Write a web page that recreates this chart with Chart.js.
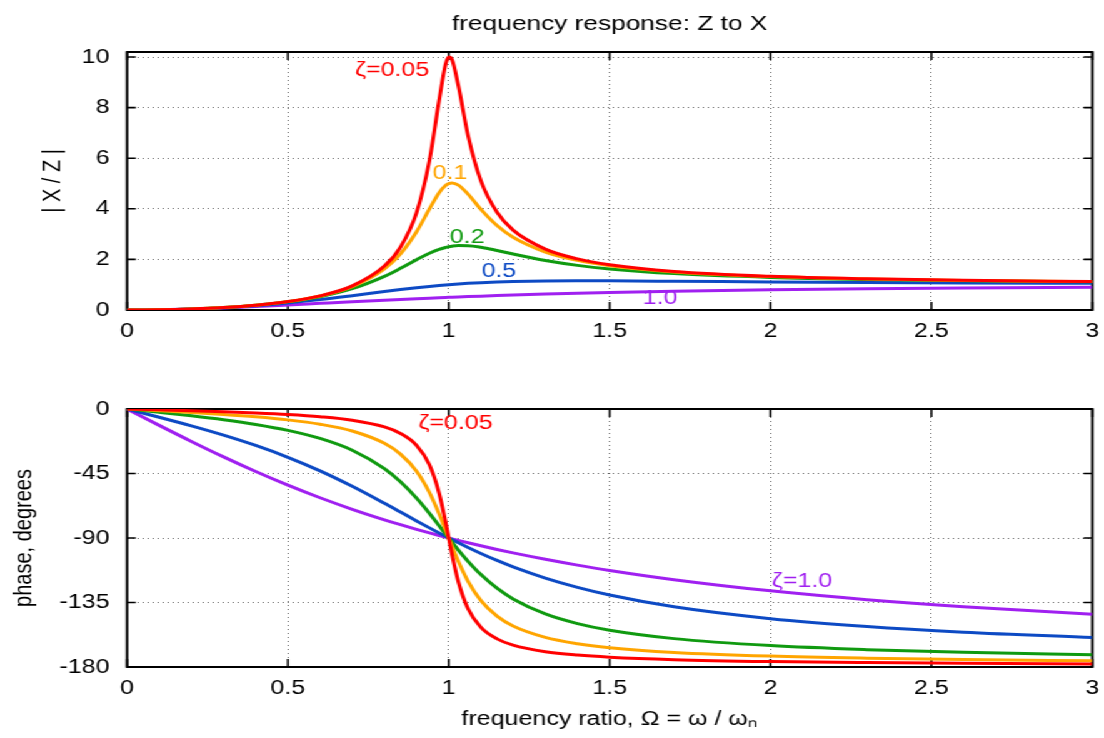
<!DOCTYPE html>
<html>
<head>
<meta charset="utf-8">
<title>frequency response: Z to X</title>
<script src="https://cdn.jsdelivr.net/npm/chart.js@4.4.1/dist/chart.umd.min.js"></script>
<style>
    html, body { margin: 0; padding: 0; background: #fff; overflow: hidden; }
    /* the reference is drawn slightly wide, so the whole stage is stretched */
    #stage { position: absolute; left: 0; top: 0; width: 883px; height: 738px; transform: scaleX(1.2503); transform-origin: 0 0; }
    #stage canvas { position: absolute; left: 0; }
    #magChart { top: 0; }
    #phaseChart { top: 350px; }
</style>
</head>
<body>
<div id="stage">
    <canvas id="magChart" width="883" height="350"></canvas>
    <canvas id="phaseChart" width="883" height="388"></canvas>
</div>
<script>
// Frequency ratio samples (denser near resonance)
const omega = [0, 0.1, 0.2, 0.3, 0.4, 0.5, 0.6, 0.7, 0.8, 0.85, 0.9, 0.94, 0.97, 0.99, 1.0,
    1.01, 1.03, 1.06, 1.1, 1.15, 1.2, 1.3, 1.4, 1.5, 1.7, 2.0, 2.3, 2.6, 3.0];

// |X / Z|
const mag005 = [0, 0.0101, 0.0417, 0.0988, 0.1903, 0.3326, 0.5600, 0.9519, 1.7355, 2.4894, 3.8528, 5.9057, 8.283, 9.706, 10.0,
    9.906, 8.866, 6.900, 5.104, 3.863, 3.157, 2.407, 2.020, 1.787, 1.523, 1.330, 1.231, 1.172, 1.124];
const mag01 = [0, 0.0101, 0.0416, 0.0987, 0.1896, 0.3304, 0.5529, 0.9265, 1.6246, 2.2201, 3.0948, 3.9960, 4.6396, 4.9251, 5.0,
    5.0251, 4.9386, 4.5786, 3.9784, 3.3386, 2.8731, 2.2920, 1.9600, 1.7503, 1.5049, 1.3216, 1.2261, 1.1689, 1.1218];
const mag02 = [0, 0.0101, 0.0415, 0.0981, 0.1871, 0.3221, 0.5267, 0.8422, 1.3287, 1.6463, 1.9899, 2.2449, 2.3973, 2.4719, 2.5,
    2.5219, 2.5473, 2.5441, 2.4818, 2.3541, 2.2115, 1.9560, 1.7635, 1.6227, 1.4388, 1.2883, 1.2057, 1.1549, 1.1126];
const mag05 = [0, 0.0101, 0.0408, 0.0939, 0.1720, 0.2774, 0.4104, 0.5658, 0.7295, 0.8080, 0.8806, 0.9329, 0.9682, 0.9898, 1.0,
    1.0098, 1.0282, 1.0529, 1.0805, 1.1073, 1.1267, 1.1483, 1.1546, 1.1523, 1.1369, 1.1094, 1.0868, 1.0697, 1.0534];
const mag10 = [0, 0.0099, 0.0385, 0.0826, 0.1379, 0.2, 0.2647, 0.3289, 0.3902, 0.4194, 0.4475, 0.4691, 0.4848, 0.4950, 0.5,
    0.5050, 0.5148, 0.5291, 0.5475, 0.5694, 0.5902, 0.6283, 0.6622, 0.6923, 0.7429, 0.8, 0.8410, 0.8711, 0.9];

// phase in degrees
const phase005 = [0, -0.58, -1.19, -1.89, -2.73, -3.81, -5.36, -7.81, -12.53, -17.03, -25.35, -38.92, -58.65, -78.63, -90,
    -101.25, -120.59, -139.39, -152.34, -160.37, -164.74, -169.33, -171.70, -173.16, -174.86, -176.19, -176.93, -177.42, -177.85];
const phase01 = [0, -1.16, -2.39, -3.77, -5.44, -7.59, -10.62, -15.35, -23.96, -31.49, -43.41, -58.23, -73.06, -84.26, -90,
    -95.68, -106.47, -120.24, -133.67, -144.50, -151.39, -159.35, -163.74, -166.50, -169.80, -172.41, -173.88, -174.84, -175.71];
const phase02 = [0, -2.31, -4.76, -7.51, -10.78, -14.93, -20.56, -28.77, -41.63, -50.77, -62.17, -72.80, -81.34, -87.12, -90,
    -92.85, -98.41, -106.25, -115.52, -125.03, -132.51, -143.00, -149.74, -154.36, -160.21, -165.07, -167.90, -169.77, -171.47];
const phase05 = [0, -5.77, -11.77, -18.25, -25.46, -33.69, -43.15, -53.93, -65.77, -71.92, -78.08, -82.94, -86.51, -88.85, -90,
    -91.14, -93.38, -96.65, -100.81, -105.66, -110.14, -117.96, -124.44, -129.81, -138.03, -146.31, -151.80, -155.70, -159.44];
const phase10 = [0, -11.42, -22.62, -33.40, -43.60, -53.13, -61.93, -69.98, -77.32, -80.73, -83.97, -86.46, -88.26, -89.43, -90,
    -90.57, -91.69, -93.34, -95.45, -97.98, -100.39, -104.86, -108.92, -112.62, -119.06, -126.87, -133.00, -137.92, -143.13];

// tick labels
const xTicks = [0, 0.5, 1, 1.5, 2, 2.5, 3];
const magTicks = [0, 2, 4, 6, 8, 10];
const phaseTicks = [0, -45, -90, -135, -180];

const colors = { z005: '#ff0000', z01: '#ffa500', z02: '#109a10', z05: '#0d4ac4', z10: '#a020f0' };

Chart.defaults.font.family = '"Liberation Sans", Arial, Helvetica, sans-serif';
Chart.defaults.font.size = 20;
Chart.defaults.color = '#000';

const PLOT_LEFT = 101.6;

const series = (values) => omega.map((x, i) => ({ x: x, y: values[i] }));

const line = (label, values, color) => ({
    label: label,
    data: series(values),
    borderColor: color,
    borderWidth: 3,
    pointRadius: 0,
    fill: false,
    cubicInterpolationMode: 'monotone'
});

// gnuplot-like box border with inward ticks on all four sides
const framePlugin = {
    id: 'frame',
    beforeDatasetsDraw(chart) {
        const { ctx, chartArea: a, scales: { x, y } } = chart;
        ctx.save();
        ctx.strokeStyle = '#000';
        ctx.lineWidth = 1.6;
        ctx.beginPath();
        x.ticks.forEach(t => {
            const px = x.getPixelForValue(t.value);
            ctx.moveTo(px, a.bottom); ctx.lineTo(px, a.bottom - 8);
            ctx.moveTo(px, a.top); ctx.lineTo(px, a.top + 8);
        });
        y.ticks.forEach(t => {
            const py = y.getPixelForValue(t.value);
            ctx.moveTo(a.left, py); ctx.lineTo(a.left + 7, py);
            ctx.moveTo(a.right, py); ctx.lineTo(a.right - 7, py);
        });
        ctx.stroke();
        ctx.lineWidth = 2;
        ctx.strokeRect(a.left, a.top, a.right - a.left, a.bottom - a.top);
        ctx.restore();
    }
};

// curve labels placed in data coordinates
const curveLabels = {
    id: 'curveLabels',
    afterDatasetsDraw(chart, args, opts) {
        const { ctx, scales: { x, y } } = chart;
        ctx.save();
        ctx.font = '20px "Liberation Sans", Arial, sans-serif';
        ctx.textAlign = 'center';
        ctx.textBaseline = 'middle';
        (opts.items || []).forEach(item => {
            ctx.fillStyle = item.color;
            ctx.fillText(item.text, x.getPixelForValue(item.x), y.getPixelForValue(item.y));
        });
        ctx.restore();
    }
};

const xScale = (height, titleText) => ({
    type: 'linear',
    min: 0,
    max: 3,
    afterBuildTicks: s => { s.ticks = xTicks.map(v => ({ value: v })); },
    afterFit: s => {
        s.height = height;
        s.paddingLeft = 0;
        s.paddingRight = 0;
    },
    ticks: { padding: 9, maxRotation: 0, callback: v => String(v) },
    grid: { color: '#666', lineWidth: 1, drawTicks: false },
    border: { display: false, dash: [1, 3] },
    title: {
        display: !!titleText,
        text: titleText || '',
        font: { size: 20 },
        padding: { top: 0, bottom: 7 }
    }
});

const yScale = (min, max, ticks, titleText, titlePad) => ({
    type: 'linear',
    min: min,
    max: max,
    afterBuildTicks: s => { s.ticks = ticks.map(v => ({ value: v })); },
    afterFit: s => { s.width = PLOT_LEFT; },
    ticks: { padding: 14, callback: v => String(v) },
    grid: { color: '#666', lineWidth: 1, drawTicks: false },
    border: { display: false, dash: [1, 3] },
    title: {
        display: true,
        text: titleText,
        font: { size: 20 },
        padding: { top: titlePad, bottom: 0 }
    }
});

const baseOptions = {
    responsive: false,
    animation: false,
    devicePixelRatio: 1,
    events: []
};

// Upper panel: amplitude ratio
new Chart(document.getElementById('magChart'), {
    type: 'line',
    data: {
        datasets: [
            line('ζ=0.05', mag005, colors.z005),
            line('0.1', mag01, colors.z01),
            line('0.2', mag02, colors.z02),
            line('0.5', mag05, colors.z05),
            line('1.0', mag10, colors.z10)
        ]
    },
    options: {
        ...baseOptions,
        layout: { padding: { left: 0, right: 9.4, top: 0, bottom: 0 } },
        scales: {
            x: xScale(40, null),
            y: yScale(0, 10.2, magTicks, '| X / Z |', 30)
        },
        plugins: {
            legend: { display: false },
            tooltip: { enabled: false },
            title: {
                display: true,
                text: 'frequency response: Z to X',
                fullSize: false,
                color: '#000',
                font: { size: 21, weight: 'normal' },
                padding: { top: 12, bottom: 14.8 }
            },
            curveLabels: {
                items: [
                    { text: 'ζ=0.05', x: 0.824, y: 9.47, color: colors.z005 },
                    { text: '0.1', x: 1.004, y: 5.40, color: colors.z01 },
                    { text: '0.2', x: 1.057, y: 2.86, color: colors.z02 },
                    { text: '0.5', x: 1.156, y: 1.51, color: colors.z05 },
                    { text: '1.0', x: 1.657, y: 0.47, color: colors.z10 }
                ]
            }
        }
    },
    plugins: [framePlugin, curveLabels]
});

// Lower panel: phase
new Chart(document.getElementById('phaseChart'), {
    type: 'line',
    data: {
        datasets: [
            line('ζ=0.05', phase005, colors.z005),
            line('0.1', phase01, colors.z01),
            line('0.2', phase02, colors.z02),
            line('0.5', phase05, colors.z05),
            line('ζ=1.0', phase10, colors.z10)
        ]
    },
    options: {
        ...baseOptions,
        layout: { padding: { left: 0, right: 9.4, top: 59, bottom: 0 } },
        scales: {
            x: xScale(71, 'frequency ratio, Ω = ω / ωₙ'),
            y: yScale(-180, 0, phaseTicks, 'phase, degrees', 7)
        },
        plugins: {
            legend: { display: false },
            tooltip: { enabled: false },
            curveLabels: {
                items: [
                    { text: 'ζ=0.05', x: 1.021, y: -10.1, color: colors.z005 },
                    { text: 'ζ=1.0', x: 2.098, y: -120.6, color: colors.z10 }
                ]
            }
        }
    },
    plugins: [framePlugin, curveLabels]
});
</script>
</body>
</html>
